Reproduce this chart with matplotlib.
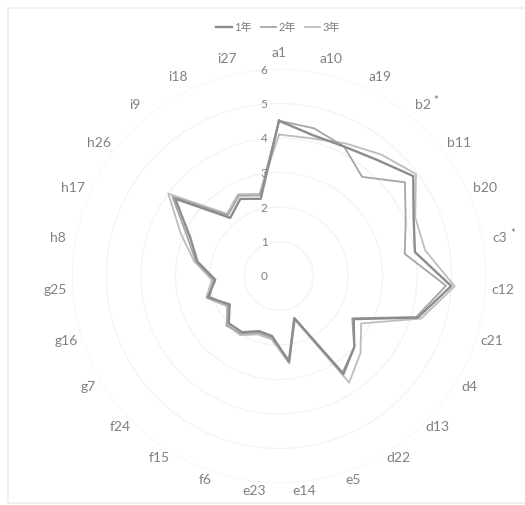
import matplotlib
matplotlib.use('Agg')
import matplotlib.pyplot as plt
import matplotlib.transforms as mtransforms
import numpy as np

# 項目名 (b2, c3 は有意差あり)
categories = ['a1', 'a10', 'a19', 'b2', 'b11', 'b20', 'c3', 'c12', 'c21',
              'd4', 'd13', 'd22', 'e5', 'e14', 'e23', 'f6', 'f15', 'f24',
              'g7', 'g16', 'g25', 'h8', 'h17', 'h26', 'i9', 'i18', 'i27']
starred = ['b2', 'c3']

year1 = [4.5, 4.2, 4.2, 4.4, 4.85, 4.25, 4.0, 5.0, 4.2, 2.5, 3.0, 3.4, 1.3, 2.5,
         1.75, 1.7, 1.95, 2.0, 1.65, 2.15, 1.85, 2.4, 2.8, 3.75, 2.2, 2.5, 2.3]
year2 = [4.5, 4.4, 4.2, 3.75, 4.55, 4.0, 3.7, 4.85, 4.15, 2.45, 3.0, 3.35, 1.3, 2.45,
         1.8, 1.75, 2.0, 2.1, 1.7, 2.1, 1.9, 2.45, 2.9, 3.85, 2.3, 2.6, 2.4]
year3 = [4.1, 4.1, 4.3, 4.6, 4.95, 4.3, 4.3, 5.1, 4.3, 2.75, 3.25, 3.7, 1.35, 2.55,
         1.85, 1.8, 2.05, 2.05, 1.75, 2.2, 1.95, 2.5, 3.1, 4.0, 2.35, 2.65, 2.45]
series_names = ['1年', '2年', '3年']
radial_ticks = [0, 1, 2, 3, 4, 5, 6]

FONT = ['Lato', 'Noto Sans CJK JP', 'DejaVu Sans']
TXT = '#808080'

fig = plt.figure(figsize=(5.25, 5.06), dpi=100)
fig.patch.set_facecolor('white')

# 外枠
fig.add_artist(plt.Rectangle((8 / 525, 2 / 506), 1.2, 495 / 506, transform=fig.transFigure,
                             fill=False, edgecolor='#ededed', linewidth=1.2))

ax = fig.add_axes([72 / 525, 22 / 506, 414 / 525, 414 / 506], projection='polar')
ax.set_theta_zero_location('N')
ax.set_theta_direction(-1)
ax.set_ylim(0, 6)
ax.spines['polar'].set_visible(False)
ax.set_facecolor('none')

n = len(categories)
angles = np.linspace(0, 2 * np.pi, n, endpoint=False)

ax.set_xticks(angles)
ax.set_xticklabels([])
ax.set_yticks(radial_ticks[1:])
ax.set_yticklabels([])
ax.xaxis.grid(False)
ax.yaxis.grid(True, color='#f3f3f3', linewidth=0.9)

styles = [('#8c8c8c', 1.7, 4), ('#a6a6a6', 1.3, 3), ('#bdbdbd', 1.3, 2)]
for vals, name, (col, lw, z) in zip([year1, year2, year3], series_names, styles):
    v = np.array(vals + vals[:1])
    a = np.append(angles, angles[0])
    ax.plot(a, v, color=col, linewidth=lw, label=name, zorder=z)

# 目盛りラベル (軸の左側)
off = mtransforms.offset_copy(ax.transData, fig=fig, x=-15, y=0, units='dots')
for t in radial_ticks:
    ax.text(0, t, str(t), transform=off, ha='center', va='center',
            fontsize=8.5, color=TXT, family=FONT)

# 項目ラベル (下側はやや内側に寄せる)
star = mtransforms.offset_copy(ax.transData, fig=fig, x=13, y=5, units='dots')
for ang, c in zip(angles, categories):
    r = 6.5 - 0.25 * max(0.0, -np.cos(ang))
    ax.text(ang, r, c, ha='center', va='center', fontsize=10,
            color=TXT, family=FONT, clip_on=False)
    if c in starred:
        ax.text(ang, r, '*', transform=star, ha='center', va='center',
                fontsize=8, color='#6f6f6f', family=FONT, clip_on=False)

leg = fig.legend(loc='center', bbox_to_anchor=(0.53, 1 - 28 / 506), ncol=3,
                 frameon=False, handlelength=1.4, handletextpad=0.2,
                 columnspacing=0.8, prop={'family': FONT, 'size': 8})
for t in leg.get_texts():
    t.set_color(TXT)

fig.savefig('out.png', dpi=100, facecolor='white')
